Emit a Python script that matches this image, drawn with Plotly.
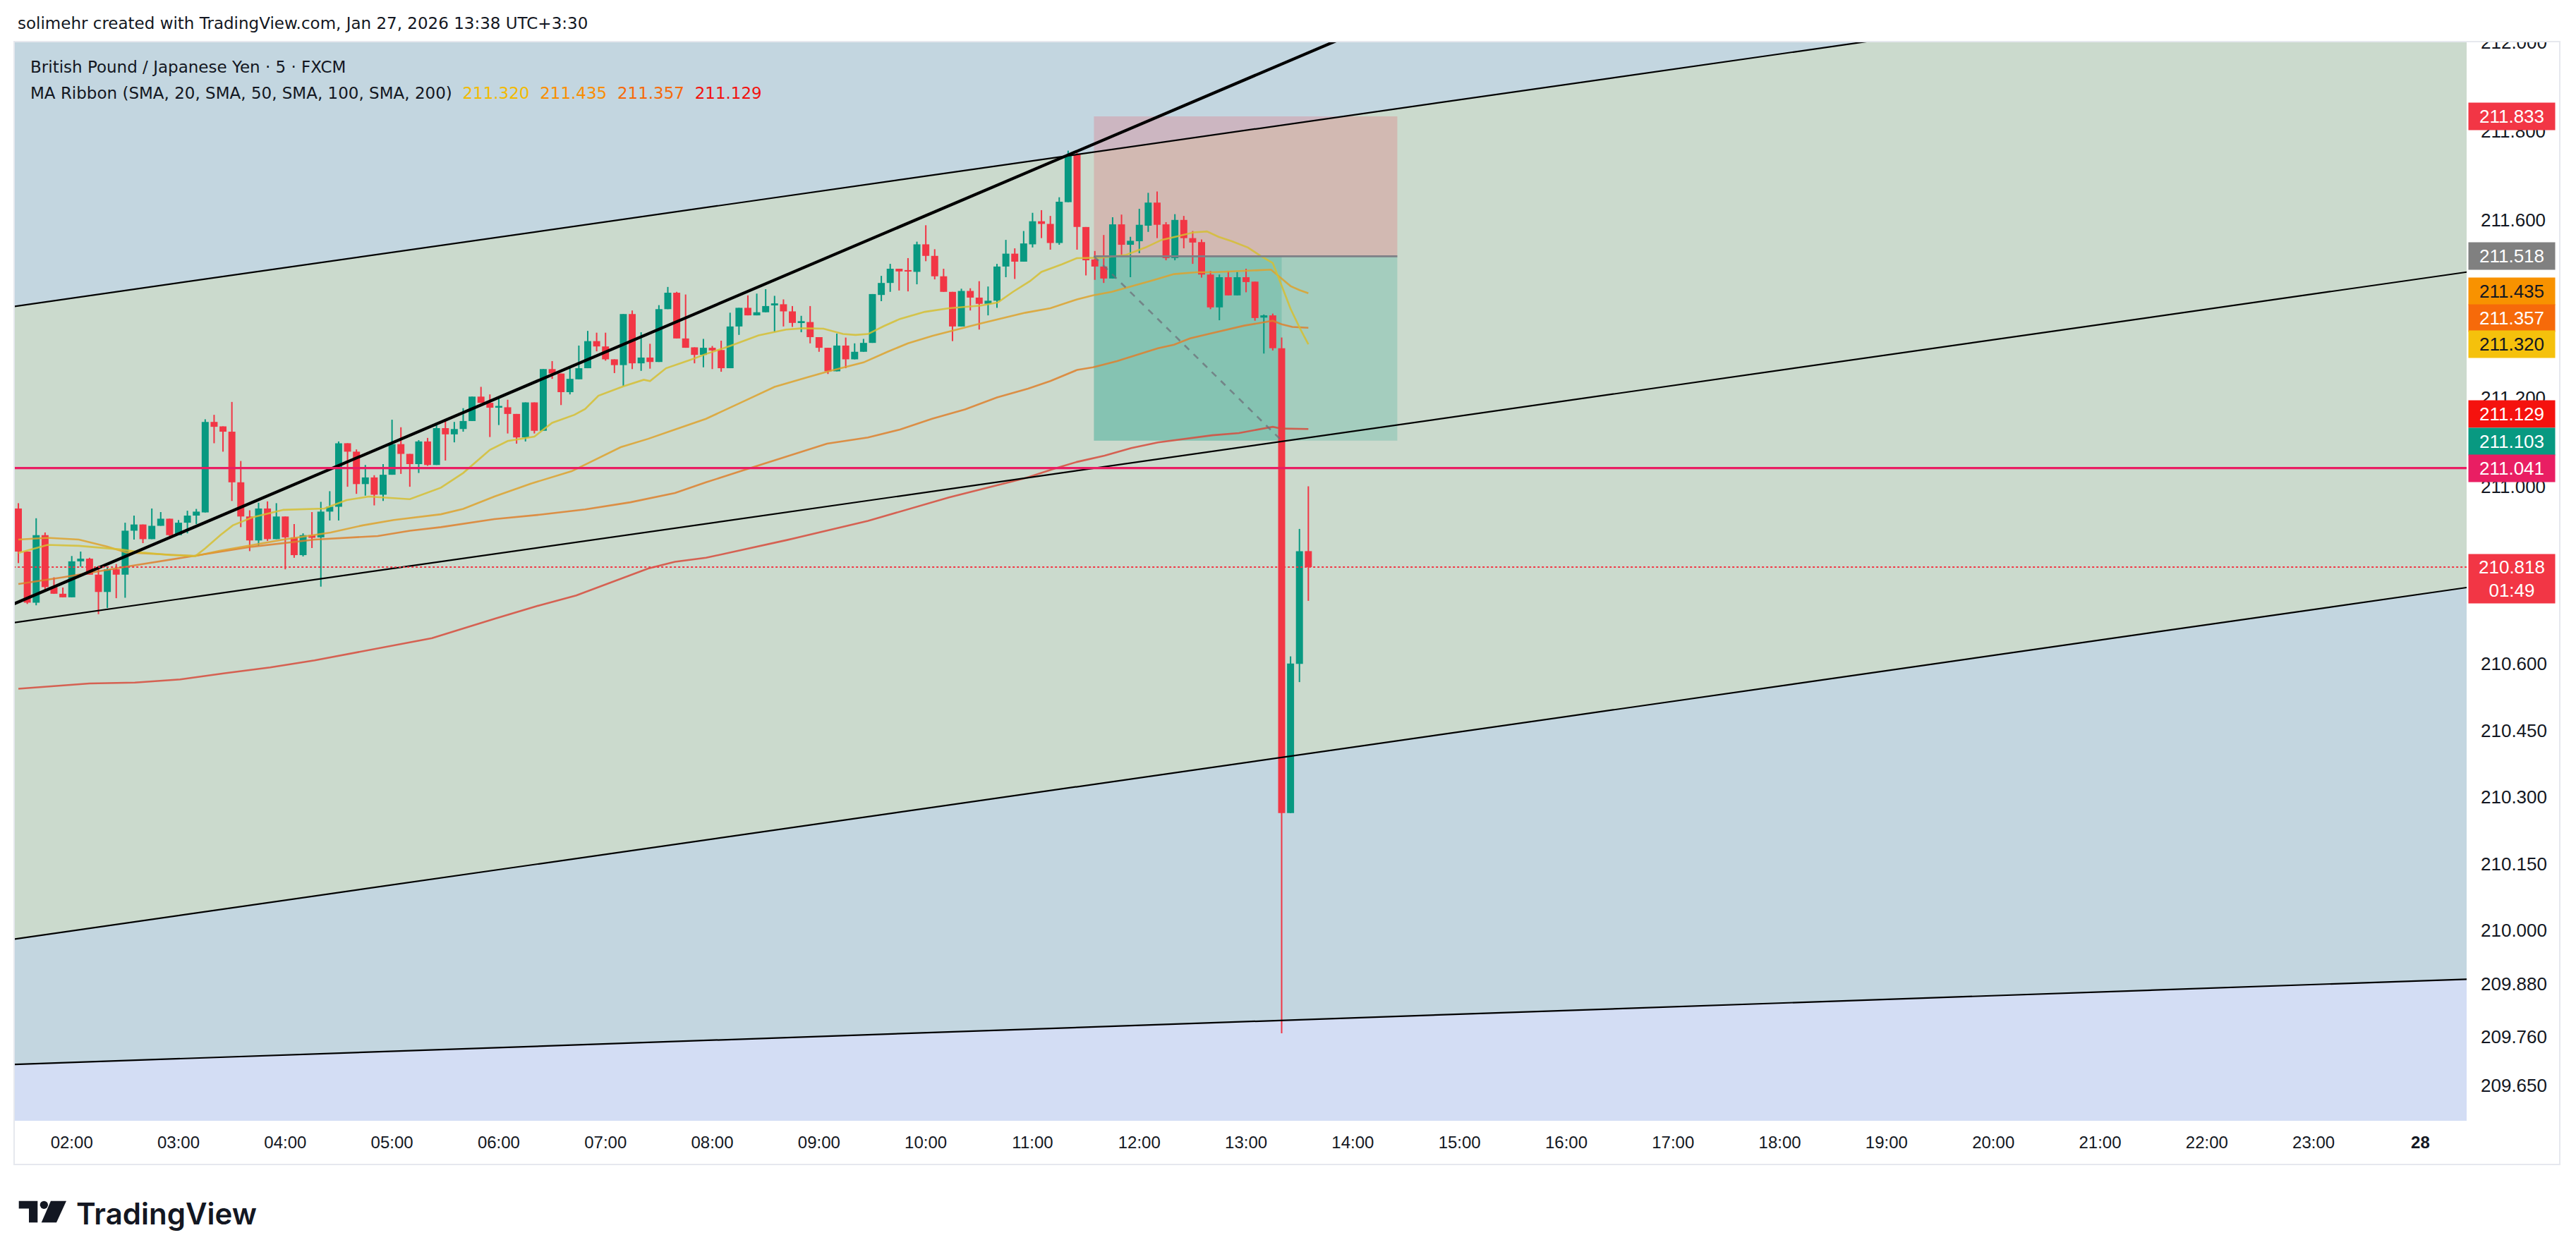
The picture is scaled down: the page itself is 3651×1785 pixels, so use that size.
import numpy as np
import pandas as pd
import plotly.graph_objects as go

# ---------------- data (GBPJPY, 5 min, FXCM) ----------------
start_time = "2026-01-27 01:30"

opens = [210.950, 210.853, 210.738, 210.890, 210.773, 210.758, 210.750, 210.831, 210.837, 210.801,
         210.762, 210.813, 210.801, 210.900, 210.914, 210.881, 210.911, 210.927, 210.890, 210.918,
         210.934, 210.941, 211.145, 211.135, 211.123, 211.009, 210.932, 210.878, 210.950, 210.881,
         210.932, 210.885, 210.845, 210.890, 210.885, 210.943, 210.954, 211.097, 211.078, 211.005,
         211.020, 210.981, 211.026, 211.095, 211.073, 211.050, 211.101, 211.048, 211.131, 211.117,
         211.129, 211.147, 211.202, 211.188, 211.177, 211.178, 211.163, 211.110, 211.189, 211.125,
         211.264, 211.254, 211.212, 211.241, 211.266, 211.327, 211.315, 211.286, 211.273, 211.388,
         211.277, 211.290, 211.280, 211.399, 211.436, 211.333, 211.313, 211.296, 211.312, 211.307,
         211.266, 211.360, 211.402, 211.385, 211.392, 211.409, 211.410, 211.394, 211.369, 211.370,
         211.336, 211.312, 211.259, 211.317, 211.286, 211.303, 211.323, 211.431, 211.458, 211.490,
         211.487, 211.483, 211.545, 211.519, 211.473, 211.438, 211.360, 211.440, 211.425, 211.411,
         211.418, 211.495, 211.524, 211.506, 211.545, 211.597, 211.591, 211.548, 211.640, 211.747,
         211.584, 211.511, 211.495, 211.468, 211.590, 211.544, 211.552, 211.587, 211.639, 211.590,
         211.514, 211.600, 211.559, 211.550, 211.477, 211.403, 211.471, 211.430, 211.471, 211.461,
         211.380, 211.385, 211.311, 210.264, 210.600, 210.854]
highs = [210.962, 210.853, 210.928, 210.896, 210.795, 210.772, 210.843, 210.853, 210.839, 210.821,
         210.819, 210.825, 210.918, 210.934, 210.914, 210.950, 210.942, 210.927, 210.924, 210.945,
         210.949, 211.151, 211.161, 211.135, 211.190, 211.057, 210.946, 210.963, 210.966, 210.962,
         210.932, 210.915, 210.894, 210.942, 210.965, 210.989, 211.101, 211.097, 211.083, 211.048,
         211.025, 211.050, 211.150, 211.133, 211.073, 211.104, 211.109, 211.143, 211.149, 211.145,
         211.176, 211.202, 211.224, 211.207, 211.198, 211.195, 211.163, 211.189, 211.189, 211.264,
         211.282, 211.254, 211.271, 211.317, 211.350, 211.346, 211.346, 211.286, 211.388, 211.396,
         211.347, 211.321, 211.408, 211.449, 211.438, 211.432, 211.313, 211.332, 211.316, 211.328,
         211.391, 211.402, 211.430, 211.434, 211.444, 211.429, 211.421, 211.406, 211.384, 211.406,
         211.336, 211.312, 211.344, 211.335, 211.322, 211.332, 211.433, 211.474, 211.501, 211.490,
         211.514, 211.551, 211.588, 211.534, 211.490, 211.438, 211.445, 211.446, 211.462, 211.450,
         211.501, 211.555, 211.536, 211.575, 211.616, 211.622, 211.609, 211.651, 211.756, 211.751,
         211.584, 211.530, 211.566, 211.606, 211.612, 211.562, 211.625, 211.661, 211.664, 211.595,
         211.613, 211.609, 211.575, 211.556, 211.485, 211.477, 211.485, 211.483, 211.490, 211.461,
         211.387, 211.389, 211.335, 210.617, 210.904, 211.000]
lows = [210.827, 210.735, 210.732, 210.766, 210.758, 210.750, 210.750, 210.819, 210.801, 210.712,
        210.726, 210.748, 210.749, 210.880, 210.872, 210.881, 210.911, 210.888, 210.890, 210.894,
        210.915, 210.941, 211.097, 211.078, 210.967, 210.908, 210.854, 210.866, 210.877, 210.881,
        210.813, 210.839, 210.842, 210.861, 210.774, 210.923, 210.923, 210.999, 210.983, 210.979,
        210.957, 210.967, 211.026, 211.028, 210.999, 211.030, 211.046, 211.048, 211.058, 211.099,
        211.123, 211.147, 211.188, 211.111, 211.138, 211.119, 211.096, 211.101, 211.119, 211.125,
        211.242, 211.183, 211.207, 211.241, 211.266, 211.304, 211.283, 211.255, 211.226, 211.264,
        211.260, 211.265, 211.280, 211.399, 211.333, 211.312, 211.277, 211.268, 211.264, 211.258,
        211.266, 211.341, 211.385, 211.385, 211.392, 211.348, 211.360, 211.359, 211.347, 211.322,
        211.303, 211.253, 211.259, 211.266, 211.286, 211.303, 211.323, 211.417, 211.438, 211.441,
        211.439, 211.455, 211.507, 211.466, 211.438, 211.327, 211.360, 211.396, 211.353, 211.385,
        211.402, 211.471, 211.467, 211.506, 211.538, 211.559, 211.533, 211.544, 211.640, 211.533,
        211.475, 211.465, 211.458, 211.468, 211.521, 211.471, 211.525, 211.573, 211.559, 211.509,
        211.509, 211.536, 211.501, 211.470, 211.399, 211.374, 211.430, 211.430, 211.437, 211.373,
        211.299, 211.306, 209.768, 210.264, 210.559, 210.742]
closes = [210.853, 210.738, 210.890, 210.773, 210.758, 210.750, 210.831, 210.837, 210.801, 210.762,
          210.813, 210.801, 210.900, 210.914, 210.881, 210.911, 210.927, 210.890, 210.918, 210.934,
          210.943, 211.145, 211.134, 211.123, 211.009, 210.932, 210.878, 210.950, 210.881, 210.932,
          210.885, 210.845, 210.890, 210.884, 210.943, 210.954, 211.097, 211.078, 211.005, 211.020,
          210.981, 211.026, 211.095, 211.073, 211.050, 211.101, 211.048, 211.131, 211.117, 211.129,
          211.147, 211.202, 211.188, 211.177, 211.181, 211.163, 211.110, 211.189, 211.125, 211.264,
          211.254, 211.212, 211.242, 211.266, 211.327, 211.315, 211.286, 211.273, 211.388, 211.277,
          211.290, 211.280, 211.399, 211.436, 211.333, 211.312, 211.296, 211.312, 211.306, 211.266,
          211.360, 211.402, 211.385, 211.392, 211.406, 211.412, 211.394, 211.368, 211.372, 211.336,
          211.312, 211.259, 211.317, 211.286, 211.303, 211.323, 211.433, 211.458, 211.490, 211.484,
          211.484, 211.545, 211.519, 211.473, 211.438, 211.360, 211.440, 211.425, 211.411, 211.418,
          211.495, 211.524, 211.506, 211.547, 211.597, 211.591, 211.548, 211.641, 211.745, 211.584,
          211.509, 211.495, 211.468, 211.590, 211.544, 211.553, 211.589, 211.639, 211.589, 211.514,
          211.600, 211.559, 211.549, 211.477, 211.403, 211.471, 211.430, 211.471, 211.460, 211.379,
          211.385, 211.311, 210.264, 210.601, 210.854, 210.818]

# MA ribbon (bar number, value)
sma20_bar = [0, 3.3, 6.8, 11.4, 13.9, 17.1, 19.9, 21, 22.7, 24.1, 26.3, 29.8, 34.4, 36.9, 39.4, 42.2, 44,
             47.5, 50, 53, 55, 58, 60, 62.5, 63.7, 65.2, 68, 70.3, 71, 72.8, 75.3, 77.3, 80, 83.2, 86.3,
             88.2, 90.5, 92.7, 94.1, 95.5, 97.3, 99.1, 101.9, 104.6, 106.4, 108.2, 110.1, 111.8, 113.7,
             115, 117.3, 119, 121.8, 124.5, 126.7, 128.5, 130.3, 132.1, 133.6, 134.9, 136.4, 138.2,
             139.7, 141, 142, 143, 144, 145]
sma20_val = [210.850, 210.868, 210.866, 210.858, 210.851, 210.845, 210.843, 210.860, 210.890, 210.912,
             210.930, 210.947, 210.950, 210.969, 210.977, 210.973, 210.971, 210.997, 211.030, 211.082,
             211.102, 211.112, 211.143, 211.161, 211.174, 211.204, 211.225, 211.240, 211.237, 211.266,
             211.283, 211.298, 211.316, 211.340, 211.353, 211.356, 211.355, 211.343, 211.341, 211.343,
             211.361, 211.377, 211.393, 211.401, 211.404, 211.407, 211.414, 211.438, 211.462, 211.483,
             211.500, 211.514, 211.515, 211.521, 211.538, 211.555, 211.563, 211.572, 211.574, 211.562,
             211.552, 211.538, 211.518, 211.503, 211.452, 211.400, 211.358, 211.320]
sma50_bar = [0, 3.3, 6.8, 10, 12.1, 15.6, 19.9, 22.7, 26.3, 29.8, 35.1, 38.7, 42.2, 47.5, 50, 53.5, 57.6,
             62.2, 67.7, 70.8, 73.8, 77.3, 81.8, 85, 88.6, 90.9, 95, 97.7, 100, 102.8, 105.5, 108.2,
             113.2, 116, 119, 120.8, 122.9, 125.1, 127.5, 129.9, 132.4, 134.2, 137.2, 140.8, 142, 143,
             144, 145]
sma50_val = [210.880, 210.884, 210.880, 210.864, 210.851, 210.847, 210.843, 210.855, 210.868, 210.880,
             210.896, 210.912, 210.924, 210.937, 210.949, 210.977, 211.006, 211.034, 211.088, 211.107,
             211.128, 211.152, 211.194, 211.224, 211.245, 211.258, 211.279, 211.303, 211.322, 211.339,
             211.353, 211.367, 211.391, 211.401, 211.421, 211.430, 211.438, 211.450, 211.464, 211.478,
             211.482, 211.482, 211.485, 211.488, 211.468, 211.451, 211.442, 211.435]
sma100_bar = [0, 5, 12.1, 21, 26.3, 33.3, 40.4, 44, 47.5, 53.5, 58.6, 63.7, 68.8, 73.8, 77.3, 81.8, 86.4,
              90.9, 95.5, 99.1, 102.7, 106.4, 110, 113.5, 116, 119, 120.8, 123.5, 125.7, 128.1, 129.9,
              131.7, 134.2, 136, 137.8, 140.2, 141, 142, 143.2, 145]
sma100_val = [210.780, 210.795, 210.819, 210.847, 210.864, 210.880, 210.888, 210.900, 210.908, 210.926,
              210.936, 210.948, 210.964, 210.985, 211.009, 211.038, 211.067, 211.096, 211.110, 211.128,
              211.152, 211.173, 211.200, 211.220, 211.237, 211.262, 211.268, 211.282, 211.296, 211.311,
              211.319, 211.333, 211.345, 211.354, 211.362, 211.370, 211.373, 211.365, 211.359, 211.357]
sma200_bar = [0, 8, 13.1, 18.2, 23.2, 28.3, 33.3, 38.4, 43.5, 46.5, 53.6, 58.6, 62.7, 66.7, 70.8, 73.8,
              77.3, 86.4, 95.5, 104.6, 113.3, 116.5, 119, 122.1, 125.1, 128.1, 131.1, 134.2, 137.2,
              140.2, 141, 142, 145]
sma200_val = [210.544, 210.556, 210.558, 210.565, 210.579, 210.592, 210.608, 210.627, 210.647, 210.658,
              210.702, 210.732, 210.754, 210.784, 210.815, 210.830, 210.839, 210.879, 210.922, 210.975,
              211.019, 211.040, 211.055, 211.069, 211.086, 211.099, 211.107, 211.115, 211.120, 211.132,
              211.134, 211.130, 211.129]
ma_last = {"SMA20": 211.320, "SMA50": 211.435, "SMA100": 211.357, "SMA200": 211.129}

# drawings (bar number, price) anchor pairs
channel_top = [(-0.4, 211.4054), (275.2, 212.1949)]
channel_mid = [(-0.4, 210.6932), (275.2, 211.4825)]
channel_bot = [(-0.4, 209.9804), (275.2, 210.7720)]
lower_line = [(-0.4, 209.6979), (275.2, 209.8898)]
trend_line = [(-0.4, 210.7361), (275.2, 213.0874)]
level_line = 211.041
last_price = 210.818
countdown = "01:49"

pos_start_bar, pos_end_bar, pos_hit_bar = 120.9, 155.0, 142.0
pos_stop, pos_entry, pos_target = 211.833, 211.518, 211.103

price_ticks = [212.000, 211.800, 211.600, 211.200, 211.000, 210.600, 210.450, 210.300,
               210.150, 210.000, 209.880, 209.760, 209.650]
hour_labels = ["02:00", "03:00", "04:00", "05:00", "06:00", "07:00", "08:00", "09:00", "10:00",
               "11:00", "12:00", "13:00", "14:00", "15:00", "16:00", "17:00", "18:00", "19:00",
               "20:00", "21:00", "22:00", "23:00", "28"]
hour_times = pd.date_range("2026-01-27 02:00", periods=len(hour_labels), freq="1h")

# ---------------- helpers ----------------
times = pd.date_range(start_time, periods=len(opens), freq="5min")
t0 = times[0]
bar_td = pd.Timedelta(minutes=5)
xb = np.array([(t - t0) / bar_td for t in times])
tick_x = [(t - t0) / bar_td for t in hour_times]
o, h, l, c = map(np.array, (opens, highs, lows, closes))

X_MIN, X_MAX = -0.4, 275.2
Y_MIN, Y_MAX = 209.571, 212.0

W, H = 3651, 1785
PL, PR, PT, PB = 21, 3496, 60, 1589


def px(xp):
    return (xp - PL) / (PR - PL)


def py(yp):
    return (PB - yp) / (PB - PT)


def line_at(anchors, xv):
    (x1, y1), (x2, y2) = anchors
    return y1 + (y2 - y1) * (xv - x1) / (x2 - x1)


GREEN = "#089981"
RED = "#F23645"
BLUE_BG = "#C3D6E0"
GREEN_BG = "#CBDACD"
LAV_BG = "#D3DDF4"
HEAD_FONT = "DejaVu Sans"

fig = go.Figure()

# candles: wicks + bodies
up = c >= o
cols = np.where(up, GREEN, RED)
fig.add_trace(go.Bar(x=xb, y=h - l, base=l, width=0.16, marker=dict(color=cols, line=dict(width=0)),
                     hoverinfo="skip", showlegend=False))
body_base = np.minimum(o, c)
body_h = np.maximum(np.abs(c - o), 0.0025)
fig.add_trace(go.Bar(x=xb, y=body_h, base=body_base, width=0.79,
                     marker=dict(color=cols, line=dict(width=0)), hoverinfo="skip", showlegend=False))

# MA ribbon
for bars, vals, col in [(sma200_bar, sma200_val, "rgba(215,75,60,0.85)"),
                        (sma100_bar, sma100_val, "rgba(222,128,45,0.85)"),
                        (sma50_bar, sma50_val, "rgba(222,162,45,0.85)"),
                        (sma20_bar, sma20_val, "rgba(214,190,50,0.85)")]:
    fig.add_trace(go.Scatter(x=bars, y=vals, mode="lines", line=dict(color=col, width=2.6),
                             hoverinfo="skip", showlegend=False))

# position tool lines
fig.add_trace(go.Scatter(x=[pos_start_bar, pos_end_bar], y=[pos_entry, pos_entry], mode="lines",
                         line=dict(color="#7E7F86", width=2.6), hoverinfo="skip", showlegend=False))
fig.add_trace(go.Scatter(x=[pos_start_bar, pos_hit_bar], y=[pos_entry, pos_target], mode="lines",
                         line=dict(color="rgba(110,112,122,0.75)", width=2.6, dash="dash"),
                         hoverinfo="skip", showlegend=False))

# channel lines
ex = np.array([X_MIN - 3, X_MAX + 3])
for anc, wdt in [(channel_top, 2.2), (channel_mid, 2.2), (channel_bot, 2.2), (lower_line, 2.2),
                 (trend_line, 4.2)]:
    fig.add_trace(go.Scatter(x=ex, y=line_at(anc, ex), mode="lines", line=dict(color="#000000", width=wdt),
                             hoverinfo="skip", showlegend=False))

# horizontal level and last price
fig.add_trace(go.Scatter(x=ex, y=[level_line] * 2, mode="lines", line=dict(color="#E91E63", width=3.2),
                         hoverinfo="skip", showlegend=False))
fig.add_trace(go.Scatter(x=ex, y=[last_price] * 2, mode="lines",
                         line=dict(color=RED, width=2, dash="dot"), hoverinfo="skip", showlegend=False))

# ---------------- shapes ----------------
shapes = []
xa, xz = X_MIN - 5, X_MAX + 5


def poly(pts):
    return "M " + " L ".join(f"{a},{b}" for a, b in pts) + " Z"


shapes.append(dict(type="path", layer="below", line=dict(width=0), fillcolor=GREEN_BG,
                   path=poly([(xa, line_at(channel_top, xa)), (xz, line_at(channel_top, xz)),
                              (xz, line_at(channel_bot, xz)), (xa, line_at(channel_bot, xa))])))
shapes.append(dict(type="path", layer="below", line=dict(width=0), fillcolor=LAV_BG,
                   path=poly([(xa, line_at(lower_line, xa)), (xz, line_at(lower_line, xz)),
                              (xz, 205.0), (xa, 205.0)])))
shapes.append(dict(type="rect", layer="below", line=dict(width=0), fillcolor="rgba(242,54,69,0.2)",
                   x0=pos_start_bar, x1=pos_end_bar, y0=pos_entry, y1=pos_stop))
shapes.append(dict(type="rect", layer="below", line=dict(width=0), fillcolor="rgba(8,153,129,0.2)",
                   x0=pos_start_bar, x1=pos_end_bar, y0=pos_target, y1=pos_entry))
shapes.append(dict(type="rect", layer="below", line=dict(width=0), fillcolor="rgba(8,153,129,0.2)",
                   x0=pos_start_bar, x1=pos_hit_bar, y0=pos_target, y1=pos_entry))

# clip the top price label like the reference
shapes.append(dict(type="rect", xref="paper", yref="paper", layer="above", line=dict(width=0),
                   fillcolor="white", x0=px(PR + 1), x1=px(W), y0=py(0), y1=py(59)))
# frame around chart + axes
shapes.append(dict(type="rect", xref="paper", yref="paper", layer="above",
                   line=dict(color="#E6E8EE", width=2), fillcolor="rgba(0,0,0,0)",
                   x0=px(20), x1=px(3628), y0=py(59), y1=py(1651)))

# TradingView logo
shapes.append(dict(type="path", xref="paper", yref="paper", layer="above", line=dict(width=0),
                   fillcolor="#131722",
                   path=poly([(px(26.7), py(1702.7)), (px(53.3), py(1702.7)), (px(53.3), py(1733.3)),
                              (px(41.0), py(1733.3)), (px(41.0), py(1713.5)), (px(26.7), py(1713.5))])))
shapes.append(dict(type="circle", xref="paper", yref="paper", layer="above", line=dict(width=0),
                   fillcolor="#131722", x0=px(56.7), x1=px(68.0), y0=py(1714.0), y1=py(1702.7)))
shapes.append(dict(type="path", xref="paper", yref="paper", layer="above", line=dict(width=0),
                   fillcolor="#131722",
                   path=poly([(px(72.0), py(1702.7)), (px(94.0), py(1702.7)), (px(80.0), py(1733.3)),
                              (px(58.7), py(1733.3))])))

# ---------------- annotations ----------------
ann = []
TXT = "#131722"
ann.append(dict(xref="paper", yref="paper", x=px(23), y=py(33), xanchor="left", yanchor="middle",
                showarrow=False, text="solimehr created with TradingView.com, Jan 27, 2026 13:38 UTC+3:30",
                font=dict(family=HEAD_FONT, size=23, color=TXT)))
ann.append(dict(xref="paper", yref="paper", x=px(41), y=py(95), xanchor="left", yanchor="middle",
                showarrow=False, text="British Pound / Japanese Yen · 5 · FXCM",
                font=dict(family=HEAD_FONT, size=23, color=TXT)))
sp = "\u00a0\u00a0"
legend_txt = ("MA Ribbon (SMA, 20, SMA, 50, SMA, 100, SMA, 200)" + sp +
              f"<span style='color:#F2BA00'>{ma_last['SMA20']:.3f}</span>" + sp +
              f"<span style='color:#F98E00'>{ma_last['SMA50']:.3f}</span>" + sp +
              f"<span style='color:#F66A0A'>{ma_last['SMA100']:.3f}</span>" + sp +
              f"<span style='color:#F2120F'>{ma_last['SMA200']:.3f}</span>")
ann.append(dict(xref="paper", yref="paper", x=px(41), y=py(132), xanchor="left", yanchor="middle",
                showarrow=False, text=legend_txt, font=dict(family=HEAD_FONT, size=23, color=TXT)))
ann.append(dict(xref="paper", yref="paper", x=px(106), y=py(1720), xanchor="left", yanchor="middle",
                showarrow=False, text="TradingView",
                font=dict(family="Inter", size=42, color=TXT, weight=600)))

# right-axis price labels: (price, text, bg, fg, yshift)
axis_labels = [
    (pos_stop, f"{pos_stop:.3f}", "#F23645", "white", 0),
    (pos_entry, f"{pos_entry:.3f}", "#808080", "white", 0),
    (ma_last["SMA50"], f"{ma_last['SMA50']:.3f}", "#F89200", "#131722", 3),
    (ma_last["SMA100"], f"{ma_last['SMA100']:.3f}", "#F66A0A", "white", 14),
    (ma_last["SMA20"], f"{ma_last['SMA20']:.3f}", "#F5C10C", "#131722", 0),
    (ma_last["SMA200"], f"{ma_last['SMA200']:.3f}", "#F5120E", "white", 21),
    (pos_target, f"{pos_target:.3f}", "#089981", "white", -1),
    (level_line, f"{level_line:.3f}", "#E91E63", "white", 0),
]
for pr, tx, bg, fg, ys in axis_labels:
    ann.append(dict(xref="paper", yref="y", x=1, y=pr, xanchor="left", yanchor="middle", xshift=2,
                    yshift=ys, showarrow=False, text=tx, bgcolor=bg, width=114, height=30, borderpad=4,
                    align="center", font=dict(family="Liberation Sans", size=26, color=fg)))
ann.append(dict(xref="paper", yref="y", x=1, y=last_price, xanchor="left", yanchor="middle", xshift=2,
                yshift=-16, showarrow=False, text=f"{last_price:.3f}<br>{countdown}", bgcolor="#F23645",
                width=114, height=61, borderpad=4, align="center",
                font=dict(family="Liberation Sans", size=26, color="white")))

tick_text = [f"<b>{t}</b>" if t == "28" else t for t in hour_labels]

fig.update_layout(
    width=W, height=H,
    margin=dict(l=PL, r=W - PR, t=PT, b=H - PB, pad=0),
    paper_bgcolor="white", plot_bgcolor=BLUE_BG,
    barmode="overlay", showlegend=False,
    shapes=shapes, annotations=ann,
    xaxis=dict(range=[X_MIN, X_MAX], tickvals=tick_x, ticktext=tick_text, showgrid=False,
               zeroline=False, showline=False, ticks="", ticklabelstandoff=14,
               tickfont=dict(family="Liberation Sans", size=24, color=TXT), fixedrange=True),
    yaxis=dict(range=[Y_MIN, Y_MAX], side="right", tickvals=price_ticks,
               ticktext=[f"{v:.3f}" for v in price_ticks], showgrid=False, zeroline=False,
               showline=False, ticks="", ticklabelstandoff=19,
               tickfont=dict(family="Liberation Sans", size=26, color=TXT), fixedrange=True),
)

fig.write_html("out.html")
